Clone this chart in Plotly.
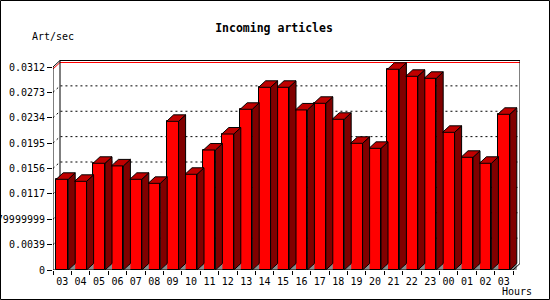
import plotly.graph_objects as go

# ---- data ----
hours = ["03", "04", "05", "06", "07", "08", "09", "10", "11", "12", "13", "14",
         "15", "16", "17", "18", "19", "20", "21", "22", "23", "00", "01", "02", "03"]
art_per_sec = [0.01394, 0.01363, 0.0164, 0.0160, 0.01394, 0.01332, 0.02285, 0.01471,
               0.01844, 0.0209, 0.0247, 0.02808, 0.02808, 0.0246, 0.02562, 0.02316,
               0.01947, 0.0187, 0.03085, 0.02977, 0.02946, 0.02116, 0.01732, 0.0164,
               0.02393]
y_tickvals = [0, 0.0039, 0.0078, 0.0117, 0.0156, 0.0195, 0.0234, 0.0273, 0.0312]
y_ticktext = ["0", "0.0039", "0.00779999999", "0.0117", "0.0156", "0.0195",
              "0.0234", "0.0273", "0.0312"]
max_line = 0.0312

# ---- geometry ----
W, H = 550, 300
L, R, T, B = 53, 30, 60, 30
PW, PH = W - L - R, H - T - B
n = len(hours)
slot_px = 460 / n
px_per_val = 203 / 0.0312
DXP, DYP = 7.0, 6.5
dxu = DXP / slot_px
dyu = DYP / px_per_val
xmin = -0.5
xmax = n - 0.5 + dxu
ymax = PH / px_per_val
bw = 12 / slot_px

FONT = "DejaVu Sans Mono"

fig = go.Figure()

# front faces
fig.add_trace(go.Bar(x=list(range(n)), y=art_per_sec, width=bw,
                     marker=dict(color="#ff0000", line=dict(color="black", width=1)),
                     hoverinfo="skip", showlegend=False))

# floor triangles, side faces, top faces
tx, ty, sx, sy, ux, uy = [], [], [], [], [], []
for i, v in enumerate(art_per_sec):
    xl, xr = i - bw / 2, i + bw / 2
    tx += [xr, xr + dxu, xr + dxu, xr, None]
    ty += [0, dyu, 0, 0, None]
    sx += [xr, xr + dxu, xr + dxu, xr, xr, None]
    sy += [0, dyu, v + dyu, v, 0, None]
    ux += [xl, xl + dxu, xr + dxu, xr, xl, None]
    uy += [v, v + dyu, v + dyu, v, v, None]

fig.add_trace(go.Scatter(x=tx, y=ty, mode="lines", fill="toself", fillcolor="#8c8c8c",
                         line=dict(width=0), hoverinfo="skip", showlegend=False))
fig.add_trace(go.Scatter(x=sx, y=sy, mode="lines", fill="toself", fillcolor="#800000",
                         line=dict(color="black", width=1), hoverinfo="skip", showlegend=False))
fig.add_trace(go.Scatter(x=ux, y=uy, mode="lines", fill="toself", fillcolor="#c00000",
                         line=dict(color="black", width=1), hoverinfo="skip", showlegend=False))

shapes = []
# dashed grid lines on back plane + left wall
for tv in y_tickvals[1:-1]:
    shapes.append(dict(type="path", xref="x", yref="y", layer="below",
                       path=f"M{xmin},{tv} L{xmin + dxu},{tv + dyu} L{xmax},{tv + dyu}",
                       line=dict(color="black", width=1, dash="2px,3px")))
# red max line
off = 2.0 / px_per_val
shapes.append(dict(type="path", xref="x", yref="y", layer="below",
                   path=f"M{xmin},{max_line - off} L{xmin + dxu},{max_line + dyu - off} L{xmax},{max_line + dyu - off}",
                   line=dict(color="#ff0000", width=1)))
# back plane outline
top_b = max_line + dyu
shapes.append(dict(type="path", xref="x", yref="y", layer="below",
                   path=f"M{xmin + dxu},{dyu} L{xmin + dxu},{top_b} L{xmax},{top_b} L{xmax},{dyu}",
                   line=dict(color="black", width=1)))
# left wall top diagonal, front axes, bottom right diagonal
shapes.append(dict(type="path", xref="x", yref="y", layer="above",
                   path=f"M{xmin + dxu},{top_b} L{xmin},{max_line} L{xmin},0 L{n - 0.5},0 L{xmax},{dyu}",
                   line=dict(color="black", width=1)))
# image frame
def fx(p):
    return (p - L) / PW
def fy(p):
    return (H - B - p) / PH
shapes.append(dict(type="rect", xref="paper", yref="paper",
                   x0=fx(0.5), x1=fx(W - 0.5), y0=fy(H - 0.5), y1=fy(0.5),
                   line=dict(color="black", width=1), layer="above"))

fig.update_layout(
    template="none",
    width=W, height=H,
    margin=dict(l=L, r=R, t=T, b=B, pad=0),
    paper_bgcolor="white", plot_bgcolor="white",
    showlegend=False,
    bargap=0,
    shapes=shapes,
    font=dict(family=FONT, size=10, color="black"),
    title=dict(text="Incoming articles", x=274 / W, xanchor="center",
               y=1 - 27.5 / H, yanchor="middle", yref="container",
               font=dict(family=FONT, size=11.5, color="black", weight="bold")),
    xaxis=dict(range=[xmin, xmax], tickmode="array", tickvals=list(range(n)),
               ticktext=hours, ticks="", showgrid=False, zeroline=False,
               showline=False, automargin=False, ticklabelstandoff=4,
               minor=dict(tickmode="array", tickvals=[k - 0.5 for k in range(n + 1)],
                          ticks="outside", ticklen=4, tickcolor="black", tickwidth=1,
                          showgrid=False),
               tickfont=dict(family=FONT, size=10, color="black")),
    yaxis=dict(range=[0, ymax], tickmode="array", tickvals=y_tickvals,
               ticktext=y_ticktext, ticks="outside", ticklen=5, tickcolor="black",
               tickwidth=1, showgrid=False, zeroline=False, showline=False,
               automargin=False,
               tickfont=dict(family=FONT, size=10, color="black")),
    annotations=[
        dict(text="Art/sec", xref="paper", yref="paper", x=fx(30), y=fy(37),
             xanchor="left", yanchor="middle", showarrow=False,
             font=dict(family=FONT, size=10, color="black")),
        dict(text="Hours", xref="paper", yref="paper", x=fx(534), y=fy(291.5),
             xanchor="right", yanchor="middle", showarrow=False,
             font=dict(family=FONT, size=10, color="black")),
    ],
)

fig.write_html("out.html")
